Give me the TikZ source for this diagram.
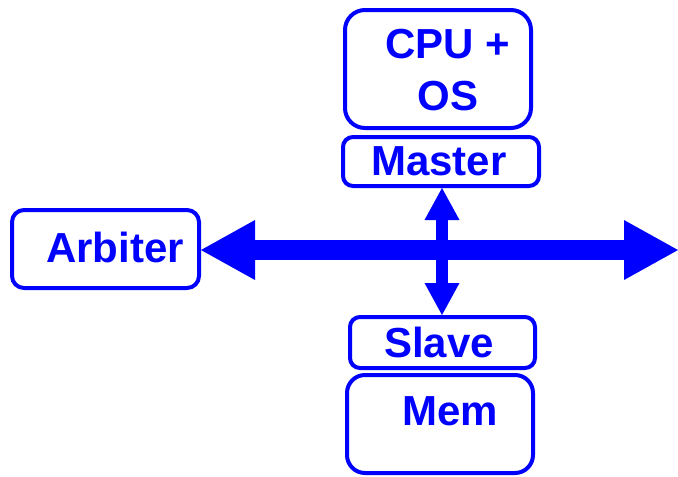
\documentclass[tikz,border=0pt]{standalone}
\usepackage{fontspec}
\setmainfont{Liberation Sans}
\usetikzlibrary{arrows.meta}
\definecolor{busblue}{RGB}{0,0,255}
\tikzset{
  box/.style={draw=busblue, line width=4pt, fill=white, inner sep=0pt},
  lbl/.style={text=busblue, font=\fontsize{42}{47}\selectfont\bfseries, anchor=base, inner sep=0pt},
}
\begin{document}
\begin{tikzpicture}[x=1pt,y=-1pt]
\useasboundingbox (0,0) rectangle (678,477);
% boxes
\node[box, rounded corners=20pt, minimum width=186pt, minimum height=118pt] (cpu) at (438,69) {};
\node[box, rounded corners=10pt, minimum width=196pt, minimum height=49pt] (master) at (441,161.5) {};
\node[box, rounded corners=12pt, minimum width=187pt, minimum height=78pt] (arbiter) at (105.5,249) {};
\node[box, rounded corners=18pt, minimum width=186pt, minimum height=98pt] (mem) at (440,424) {};
\node[box, rounded corners=10pt, minimum width=185pt, minimum height=51pt] (slave) at (442.5,342.5) {};
% labels
\node[lbl] (cpuT) at (448,58) {CPU +};
\node[lbl] (osT) at (448,110) {OS};
\node[lbl] (masterT) at (439,175) {Master};
\node[lbl] (arbT) at (115,262) {Arbiter};
\node[lbl] (slaveT) at (439,357) {Slave};
\node[lbl] (memT) at (450,425) {Mem};
% bus
\coordinate (busR) at (678,250);
\draw[busblue, line width=20pt, {Triangle[length=54pt,width=60pt,line width=0pt]}-{Triangle[length=54pt,width=60pt,line width=0pt]}]
  (arbiter.east |- busR) -- (busR);
% master-slave link
\coordinate (vtop) at (442,188);
\coordinate (vbot) at (442,315);
\draw[busblue, line width=12pt, {Triangle[length=32pt,width=35pt,line width=0pt]}-{Triangle[length=32pt,width=35pt,line width=0pt]}]
  (master.south -| vtop) -- (slave.north -| vbot);
\end{tikzpicture}
\end{document}
